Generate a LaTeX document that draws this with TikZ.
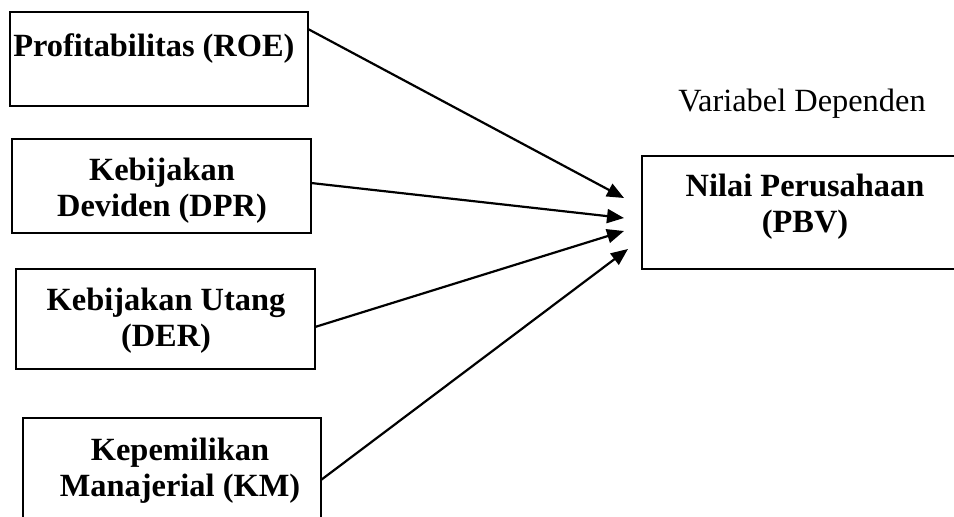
\documentclass[tikz,border=0pt]{standalone}
\usepackage{fontspec}
\setmainfont{Liberation Serif}
\usetikzlibrary{arrows.meta,calc}
\begin{document}
\begin{tikzpicture}[x=0.5pt,y=-0.5pt,
  box/.style={draw,line width=1.1pt,inner sep=0pt,outer sep=0pt},
  txt/.style={font=\fontsize{16.2}{18}\selectfont\bfseries,align=center,inner sep=0pt},
  arr/.style={-{Triangle[length=8.5pt,width=7pt]},line width=1.1pt}]
\useasboundingbox (0,0) rectangle (954,517);
\clip (0,0) rectangle (954,517);
% variabel independen
\node[box,minimum width=149pt,minimum height=47pt] (roe) at (159,59) {};
\node[box,minimum width=149.5pt,minimum height=47pt] (dpr) at (161.5,186) {};
\node[box,minimum width=149.5pt,minimum height=50pt] (der) at (165.5,319) {};
\node[box,minimum width=149pt,minimum height=56pt] (km) at (172,474) {};
% variabel dependen
\node[box,minimum width=161.5pt,minimum height=56.5pt] (pbv) at (803.5,212.5) {};
\node[txt,anchor=base west] (roetxt) at (13,57) {Profitabilitas (ROE)};
\node[txt,anchor=base] (dprtxt) at (162,217) {Kebijakan\\Deviden (DPR)};
\node[txt,anchor=base] (dertxt) at (166,347) {Kebijakan Utang\\(DER)};
\node[txt,anchor=base] (kmtxt) at (180,497) {Kepemilikan\\Manajerial (KM)};
\node[txt,anchor=base] (pbvtxt) at (805,233) {Nilai Perusahaan\\(PBV)};
\node[txt,font=\fontsize{16.2}{18}\selectfont,anchor=base] (dep) at (802,112) {Variabel Dependen};
\draw[arr] ($(roe.north east)+(0,17)$) -- ($(pbv.north west)+(-18,42)$);
\draw[arr] ($(dpr.north east)+(0,44)$) -- ($(pbv.north west)+(-18,62)$);
\draw[arr] ($(der.north east)+(0,58)$) -- ($(pbv.north west)+(-18,75)$);
\draw[arr] ($(km.north east)+(0,62)$) -- ($(pbv.north west)+(-14,93)$);
\end{tikzpicture}
\end{document}
